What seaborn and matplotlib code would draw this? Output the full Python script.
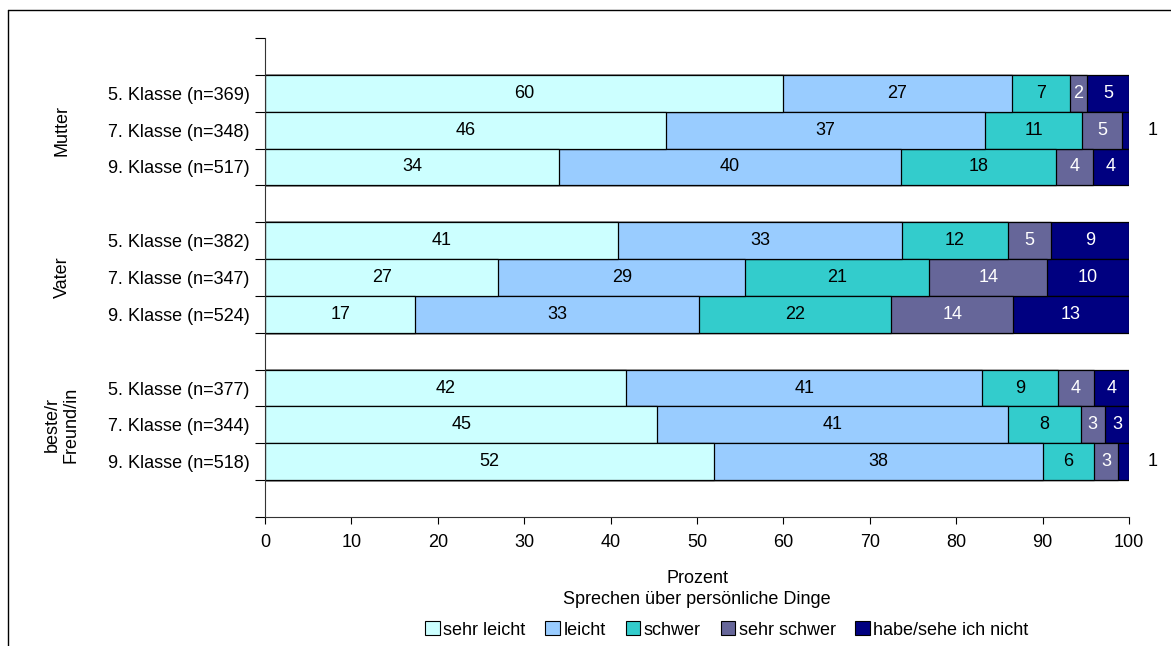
import matplotlib
matplotlib.use('Agg')
import matplotlib.pyplot as plt
from matplotlib.lines import Line2D
from matplotlib.patches import Patch
from matplotlib.transforms import blended_transform_factory
import numpy as np
import pandas as pd
import seaborn as sns

# row labels (top to bottom), blanks are the gaps between groups
rows = ['5. Klasse (n=369)', '7. Klasse (n=348)', '9. Klasse (n=517)',
        '5. Klasse (n=382)', '7. Klasse (n=347)', '9. Klasse (n=524)',
        '5. Klasse (n=377)', '7. Klasse (n=344)', '9. Klasse (n=518)']
groups = ['Mutter', 'Vater', 'beste/r\nFreund/in']
answers = ['sehr leicht', 'leicht', 'schwer', 'sehr schwer', 'habe/sehe ich nicht']
colors = ['#CCFFFF', '#99CCFF', '#33CCCC', '#666699', '#000080']
text_colors = ['black', 'black', 'black', 'white', 'white']

sehr_leicht = [59.9, 46.4, 34.0, 40.9, 27.0, 17.4, 41.8, 45.4, 52.0]
leicht      = [26.6, 36.9, 39.6, 32.8, 28.6, 32.8, 41.2, 40.6, 38.0]
schwer      = [6.7, 11.3, 17.9, 12.3, 21.3, 22.3, 8.8, 8.4, 6.0]
sehr_schwer = [1.9, 4.6, 4.3, 5.0, 13.6, 14.1, 4.1, 2.8, 2.7]
habe_nicht  = [4.9, 0.8, 4.2, 9.0, 9.5, 13.4, 4.1, 2.8, 1.3]

order = ['', rows[0], rows[1], rows[2], ' ', rows[3], rows[4], rows[5],
         '  ', rows[6], rows[7], rows[8], '   ']

df = pd.DataFrame({'row': rows, 'sehr leicht': sehr_leicht, 'leicht': leicht,
                   'schwer': schwer, 'sehr schwer': sehr_schwer,
                   'habe/sehe ich nicht': habe_nicht})
cum = df[answers].cumsum(axis=1)

sns.set_style('white')
plt.rcParams['font.family'] = ['Liberation Sans', 'DejaVu Sans']
plt.rcParams['text.color'] = 'black'
plt.rcParams['axes.labelcolor'] = 'black'
plt.rcParams['xtick.color'] = 'black'
plt.rcParams['ytick.color'] = 'black'

FS = 13

fig = plt.figure(figsize=(11.71, 6.46), dpi=100)
ax = fig.add_axes([265/1171, 1 - 517/646, 864/1171, (517 - 38)/646])

# stacked bars: draw cumulative totals from the longest down
for i in range(len(answers) - 1, -1, -1):
    sns.barplot(x=cum[answers[i]], y=df['row'], order=order, orient='h',
                color=colors[i], saturation=1, edgecolor='black',
                linewidth=0.9, width=1.0, ax=ax)

# value labels
for r in range(len(rows)):
    ypos = order.index(rows[r])
    for i, a in enumerate(answers):
        v = df.loc[r, a]
        mid = cum.loc[r, a] - v / 2
        if v < 1.5:
            ax.text(102.7, ypos, f'{round(v)}', ha='center', va='center',
                    fontsize=FS, color='black', clip_on=False)
        else:
            ax.text(mid, ypos, f'{round(v)}', ha='center', va='center',
                    fontsize=FS, color=text_colors[i])

ax.set_xlim(0, 100)
ax.set_ylim(12.5, -0.5)
ax.set_xticks(range(0, 101, 10))
ax.tick_params(axis='x', direction='out', length=5, width=0.8, labelsize=FS,
               bottom=True, pad=7)
ax.tick_params(axis='y', which='major', length=0, labelsize=FS, pad=11)
ax.set_yticks(np.arange(-0.5, 13, 1), minor=True)
ax.tick_params(axis='y', which='minor', direction='out', length=7, width=0.8, left=True)
ax.set_ylabel('')
ax.set_xlabel('Prozent\nSprechen über persönliche Dinge', fontsize=FS,
              labelpad=14, linespacing=1.3)
for s in ['top', 'right']:
    ax.spines[s].set_visible(False)
ax.spines['left'].set_color('#333333')
ax.spines['bottom'].set_color('#333333')

# group labels
tr = blended_transform_factory(fig.transFigure, ax.transData)
for g, yc in zip(groups, [2, 6, 10]):
    ax.text(62/1171, yc, g, rotation=90, ha='center', va='center',
            fontsize=FS, transform=tr, linespacing=1.15)

handles = [Patch(facecolor=c, edgecolor='black', linewidth=0.8) for c in colors]
fig.legend(handles, answers, loc='center', bbox_to_anchor=(727/1171, 1 - 630/646),
           ncol=5, frameon=False, fontsize=FS, handlelength=0.8, handleheight=0.8,
           handletextpad=0.2, columnspacing=1.1)

# outer frame (left and top edge of the chart area)
fig.add_artist(Line2D([8/1171, 8/1171], [0, 1 - 10/646], color='black', lw=1,
                      transform=fig.transFigure))
fig.add_artist(Line2D([8/1171, 1], [1 - 10/646, 1 - 10/646], color='black', lw=1,
                      transform=fig.transFigure))

fig.savefig('out.png', dpi=100)
